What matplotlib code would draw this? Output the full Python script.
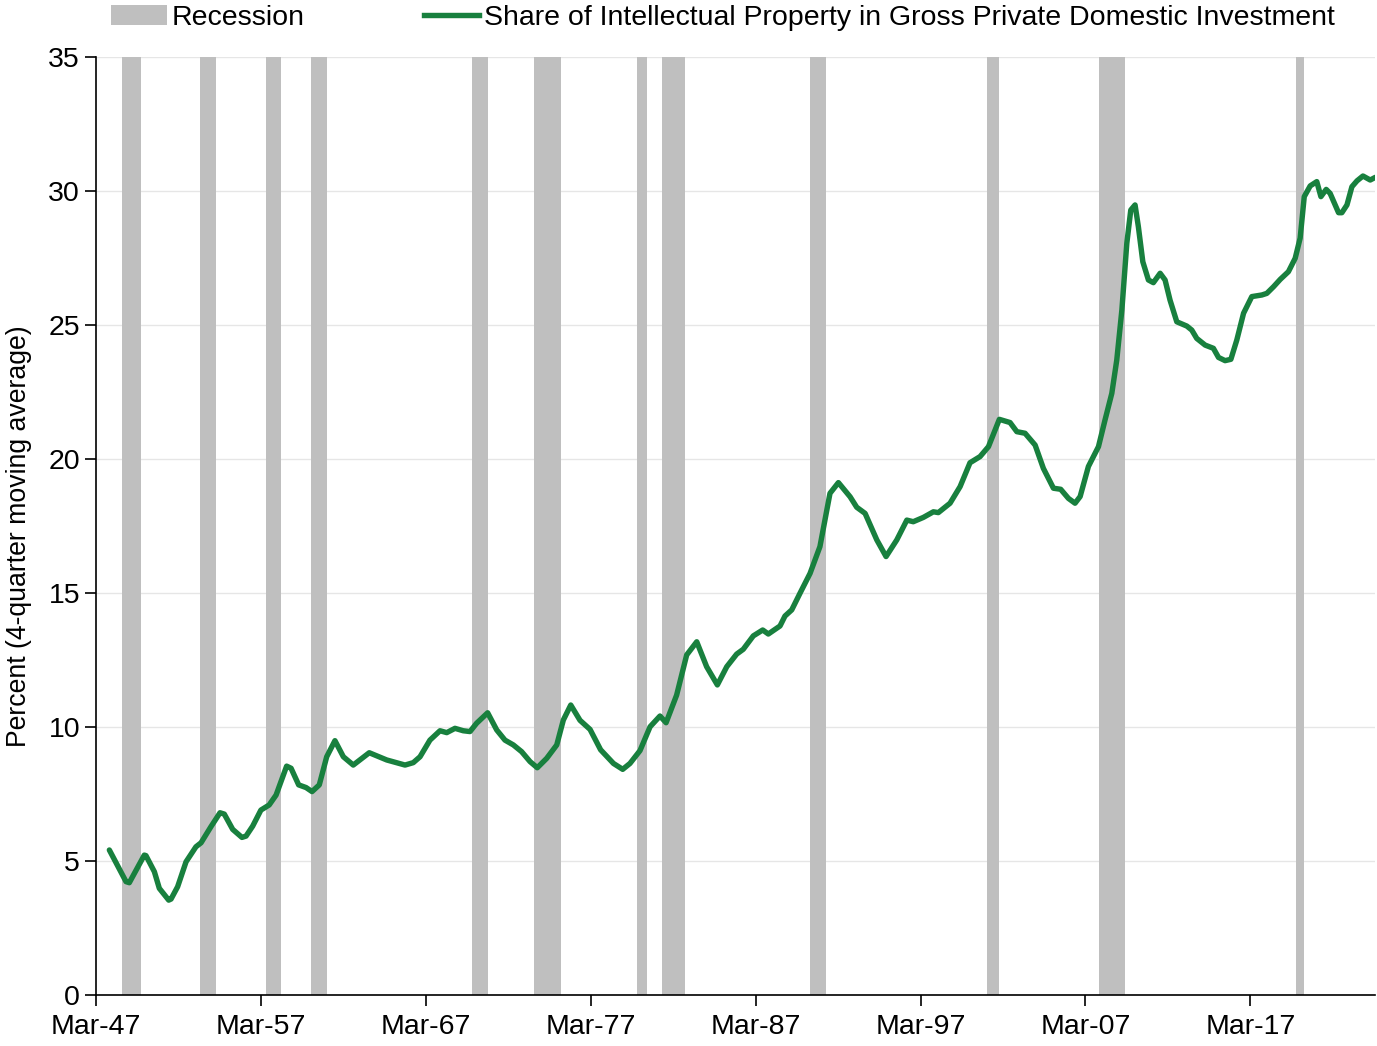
import matplotlib
matplotlib.use("Agg")
import matplotlib.pyplot as plt
from matplotlib.patches import Patch
from matplotlib.lines import Line2D

plt.rcParams['font.family'] = ['Liberation Sans', 'DejaVu Sans']

# x values: decimal years (Mar-47 = 1947 + 2/12)
BASE = 1947 + 2 / 12
t_offsets = [0.81, 1.82, 2.02, 2.93, 3.03, 3.54, 3.84, 4.41, 4.55, 4.95, 5.46, 6.06, 6.37,
             6.97, 7.52, 7.78, 8.29, 8.85, 9.10, 9.50, 10.0, 10.5, 10.92, 11.56, 11.83,
             12.29, 12.74, 13.10, 13.54, 13.99, 14.49, 15.0, 15.6, 16.57, 17.63, 18.74,
             19.24, 19.65, 20.25, 20.86, 21.27, 21.77, 22.27, 22.68, 23.08, 23.75, 24.30,
             24.80, 25.31, 25.81, 26.32, 26.76, 27.33, 27.94, 28.34, 28.79, 29.35, 29.96,
             30.6, 31.38, 31.94, 32.38, 32.99, 33.60, 34.20, 34.57, 35.21, 35.82, 36.43,
             37.03, 37.68, 38.25, 38.85, 39.25, 39.86, 40.43, 40.77, 41.48, 41.78, 42.19,
             42.69, 43.30, 43.90, 44.51, 45.02, 45.73, 46.13, 46.64, 47.35, 47.91, 48.56,
             49.17, 49.56, 50.17, 50.78, 51.08, 51.79, 52.40, 53.00, 53.61, 54.12, 54.78,
             55.43, 55.84, 56.34, 56.95, 57.45, 58.06, 58.50, 58.97, 59.37, 59.68, 60.18,
             60.79, 61.19, 61.60, 61.90, 62.21, 62.51, 62.75, 63.01, 63.21, 63.48, 63.82,
             64.12, 64.53, 64.83, 65.13, 65.54, 66.15, 66.45, 66.75, 67.26, 67.76, 68.07,
             68.47, 68.82, 69.18, 69.59, 70.09, 70.70, 71.00, 71.41, 71.81, 72.31, 72.72,
             73.02, 73.27, 73.63, 74.03, 74.28, 74.60, 74.84, 75.35, 75.55, 75.86, 76.16,
             76.47, 76.83, 77.27, 77.58]
share_ip = [5.41, 4.23, 4.19, 5.22, 5.20, 4.60, 3.98, 3.54, 3.58, 4.04, 4.97, 5.53, 5.68,
            6.28, 6.80, 6.75, 6.18, 5.88, 5.93, 6.30, 6.90, 7.09, 7.46, 8.54, 8.46,
            7.84, 7.74, 7.59, 7.84, 8.89, 9.49, 8.89, 8.58, 9.04, 8.77, 8.58,
            8.67, 8.89, 9.51, 9.86, 9.79, 9.95, 9.86, 9.83, 10.14, 10.53, 9.89,
            9.51, 9.33, 9.08, 8.71, 8.48, 8.83, 9.33, 10.26, 10.82, 10.25, 9.91,
            9.15, 8.64, 8.42, 8.64, 9.12, 10.01, 10.41, 10.16, 11.19, 12.69, 13.18,
            12.25, 11.57, 12.25, 12.72, 12.90, 13.40, 13.62, 13.47, 13.77, 14.14, 14.37,
            14.99, 15.73, 16.73, 18.72, 19.12, 18.59, 18.20, 17.97, 16.98, 16.36, 16.98,
            17.72, 17.66, 17.82, 18.03, 18.00, 18.35, 18.97, 19.86, 20.09, 20.46, 21.48,
            21.36, 21.02, 20.96, 20.52, 19.65, 18.91, 18.87, 18.53, 18.35, 18.60, 19.72,
            20.46, 21.46, 22.45, 23.69, 25.56, 28.05, 29.29, 29.48, 28.67, 27.36, 26.68,
            26.58, 26.93, 26.68, 25.93, 25.12, 24.96, 24.81, 24.50, 24.25, 24.13, 23.79,
            23.67, 23.72, 24.44, 25.44, 26.06, 26.12, 26.18, 26.43, 26.70, 26.99, 27.49,
            28.24, 29.79, 30.19, 30.35, 29.79, 30.06, 29.91, 29.19, 29.19, 29.48, 30.16,
            30.38, 30.56, 30.41, 30.51]
years = [BASE + t for t in t_offsets]

# recession periods (decimal-year offsets from Mar-47)
rec_start = [1.58, 6.31, 10.31, 13.04, 22.80, 26.56, 32.81, 34.32, 43.30, 54.03, 60.80, 72.77]
rec_end = [2.73, 7.28, 11.22, 14.01, 23.77, 28.20, 33.41, 35.72, 44.27, 54.76, 62.43, 73.26]

tick_labels = ['Mar-47', 'Mar-57', 'Mar-67', 'Mar-77', 'Mar-87', 'Mar-97', 'Mar-07', 'Mar-17']
tick_offsets = [0, 10, 20, 30, 40, 50, 60, 70]

GREEN = '#18803e'
GREY = '#bfbfbf'
FS = 20.5

fig = plt.figure(figsize=(13.77, 10.46), dpi=100)
ax = fig.add_axes([96 / 1377, 1 - 995 / 1046, (1375 - 96) / 1377, (995 - 57) / 1046])

for s, e in zip(rec_start, rec_end):
    ax.axvspan(BASE + s, BASE + e, color=GREY, lw=0, zorder=1)

ax.plot(years, share_ip, color=GREEN, lw=3.9, zorder=3, solid_capstyle='round',
        solid_joinstyle='round')

ax.set_xlim(BASE, BASE + 77.56)
ax.set_ylim(0, 35)
ax.set_yticks(range(0, 36, 5))
ax.set_xticks([BASE + t for t in tick_offsets])
ax.set_xticklabels(tick_labels)
ax.tick_params(axis='both', labelsize=FS, direction='out', length=8, width=1.2, colors='black')
ax.tick_params(axis='x', pad=6)
ax.grid(axis='y', color='#e6e6e6', lw=1, zorder=0)
ax.set_axisbelow(True)
for sp in ['top', 'right']:
    ax.spines[sp].set_visible(False)
for sp in ['left', 'bottom']:
    ax.spines[sp].set_linewidth(1.2)
ax.set_ylabel('Percent (4-quarter moving average)', fontsize=19.2, labelpad=12, y=0.489)

handles = [Patch(facecolor=GREY, edgecolor='none'),
           Line2D([0], [0], color=GREEN, lw=3.9)]
labels = ['Recession', 'Share of Intellectual Property in Gross Private Domestic Investment']
fig.legend(handles, labels, loc='upper left', bbox_to_anchor=(100 / 1377, 1.006), ncol=2,
           frameon=False, fontsize=FS, handlelength=1.95, handletextpad=0.15,
           columnspacing=4.2, borderaxespad=0)

fig.savefig('out.png', dpi=100)
